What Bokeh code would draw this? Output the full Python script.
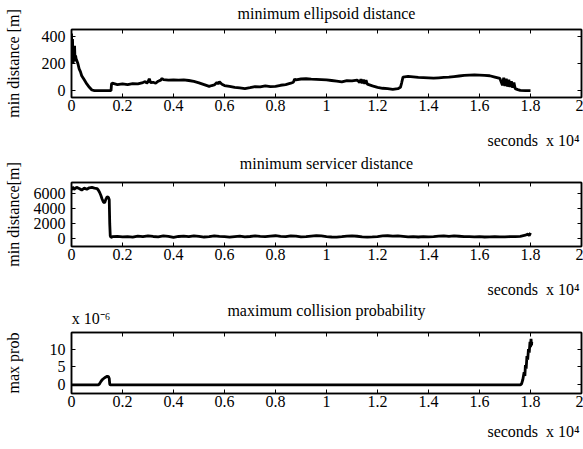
from bokeh.plotting import figure
from bokeh.models import Range1d, FixedTicker, LinearAxis
from bokeh.layouts import column
from bokeh.embed import file_html
from bokeh.resources import INLINE

FONT = "Liberation Serif"

# ---- data (time in units of 10^4 s) ----
x_ticks = [0, 0.2, 0.4, 0.6, 0.8, 1.0, 1.2, 1.4, 1.6, 1.8, 2.0]
x_tick_labels = ["0", "0.2", "0.4", "0.6", "0.8", "1", "1.2", "1.4", "1.6", "1.8", "2"]
x_unit_text = "seconds\u00a0\u00a0x 10\u2074"
prob_unit_text = "x 10\u207b\u2076"

ell_t = [
    0.000, 0.002, 0.004, 0.006, 0.008, 0.010, 0.012, 0.014, 0.016, 0.018,
    0.020, 0.025, 0.030, 0.035, 0.040, 0.050, 0.060, 0.070, 0.080, 0.090,
    0.100, 0.120, 0.140, 0.155, 0.157, 0.160, 0.180, 0.200, 0.220, 0.240,
    0.260, 0.280, 0.290, 0.295, 0.300, 0.305, 0.310, 0.320, 0.330, 0.340,
    0.350, 0.355, 0.360, 0.380, 0.400, 0.420, 0.440, 0.460, 0.480, 0.500,
    0.520, 0.540, 0.550, 0.560, 0.570, 0.575, 0.580, 0.590, 0.600, 0.620,
    0.640, 0.660, 0.680, 0.700, 0.720, 0.740, 0.760, 0.780, 0.800, 0.820,
    0.840, 0.860, 0.870, 0.875, 0.880, 0.900, 0.920, 0.940, 0.960, 0.980,
    1.000, 1.020, 1.040, 1.060, 1.080, 1.100, 1.120, 1.130, 1.135, 1.140,
    1.145, 1.150, 1.155, 1.160, 1.180, 1.200, 1.220, 1.240, 1.260, 1.280,
    1.290, 1.295, 1.300, 1.320, 1.340, 1.360, 1.380, 1.400, 1.420, 1.440,
    1.460, 1.480, 1.500, 1.520, 1.540, 1.560, 1.580, 1.600, 1.620, 1.640,
    1.660, 1.680, 1.690, 1.695, 1.700, 1.705, 1.710, 1.715, 1.720, 1.725,
    1.730, 1.735, 1.740, 1.750, 1.760, 1.780, 1.800]
ell_d = [
    420, 250, 380, 200, 300, 230, 330, 215, 260, 235,
    225, 200, 160, 140, 110, 80, 50, 25, 5, 0,
    0, 0, 0, 0, 50, 55, 45, 50, 45, 52,
    50, 60, 68, 55, 65, 88, 60, 62, 55, 70,
    78, 90, 82, 78, 80, 78, 80, 75, 68, 58,
    45, 32, 38, 42, 60, 50, 65, 48, 38, 32,
    25, 20, 15, 22, 30, 28, 35, 30, 32, 40,
    45, 55, 62, 85, 80, 86, 88, 85, 84, 82,
    80, 75, 70, 65, 74, 72, 78, 60, 85, 55,
    82, 50, 78, 48, 35, 25, 18, 15, 10, 15,
    25, 60, 100, 105, 102, 98, 96, 94, 92, 95,
    98, 100, 104, 108, 112, 115, 116, 114, 112, 110,
    100, 90, 40, 95, 35, 88, 30, 80, 28, 70,
    22, 60, 15, 8, 2, 0, 0]

serv_t = [
    0.000, 0.005, 0.010, 0.020, 0.030, 0.040, 0.050, 0.060, 0.070, 0.080,
    0.090, 0.100, 0.105, 0.110, 0.115, 0.120, 0.125, 0.130, 0.135, 0.140,
    0.145, 0.148, 0.150, 0.152, 0.155, 0.160, 0.180, 0.200, 0.220, 0.240,
    0.260, 0.280, 0.300, 0.320, 0.340, 0.360, 0.380, 0.400, 0.420, 0.440,
    0.460, 0.480, 0.500, 0.520, 0.540, 0.560, 0.580, 0.600, 0.620, 0.640,
    0.660, 0.680, 0.700, 0.720, 0.740, 0.760, 0.780, 0.800, 0.820, 0.840,
    0.860, 0.880, 0.900, 0.920, 0.940, 0.960, 0.980, 1.000, 1.020, 1.040,
    1.060, 1.080, 1.100, 1.120, 1.140, 1.160, 1.180, 1.200, 1.220, 1.240,
    1.260, 1.280, 1.300, 1.320, 1.340, 1.360, 1.380, 1.400, 1.420, 1.440,
    1.460, 1.480, 1.500, 1.520, 1.540, 1.560, 1.580, 1.600, 1.620, 1.640,
    1.660, 1.680, 1.700, 1.720, 1.740, 1.760, 1.780, 1.790, 1.795, 1.800]
serv_d = [
    6500, 6900, 6600, 6850, 6700, 6500, 6750, 6600, 6800, 6850,
    6750, 6700, 6500, 6200, 5800, 5300, 4900, 4800, 5300, 5600,
    5500, 5200, 2000, 400, 200, 300, 350, 280, 320, 250,
    380, 300, 420, 330, 280, 400, 350, 200, 330, 380,
    300, 420, 350, 260, 300, 420, 350, 300, 250, 320,
    380, 290, 330, 400, 340, 300, 380, 430, 350, 300,
    420, 380, 280, 300, 380, 450, 400, 320, 260, 250,
    300, 380, 420, 360, 280, 250, 280, 320, 400, 430,
    380, 420, 350, 280, 320, 260, 300, 280, 320, 380,
    420, 350, 400, 360, 320, 300, 280, 300, 260, 280,
    300, 280, 290, 300, 320, 350, 500, 650, 450, 800]

prob_t = [
    0.000, 0.105, 0.110, 0.115, 0.120, 0.125, 0.130, 0.135, 0.140, 0.145,
    0.148, 0.150, 0.152, 1.760, 1.765, 1.770, 1.775, 1.778, 1.780, 1.783,
    1.786, 1.789, 1.792, 1.795, 1.798, 1.800, 1.802, 1.804, 1.805]
prob_e6 = [
    0, 0, 0.3, 0.9, 1.4, 1.7, 2.0, 2.2, 2.4, 2.3,
    1.8, 0.2, 0, 0, 0.3, 1.5, 3.5, 2.5, 5.5, 4.5,
    8.0, 7.0, 10.0, 9.0, 12.0, 10.5, 12.8, 11.0, 12.0]

X_LO, X_HI = 0, 2
# where the centred unit texts sit along the time axis
X_UNIT_POS = 1.812
PROB_UNIT_POS = 0.077

W = 583
BORDER_L, BORDER_R = 71, 2


def style_axis(ax, ticks, labels=False, overrides=None, standoff=5):
    ax.ticker = FixedTicker(ticks=ticks, minor_ticks=[])
    ax.major_tick_in = 4
    ax.major_tick_out = 0
    ax.minor_tick_in = 0
    ax.minor_tick_out = 0
    ax.axis_line_color = "black"
    ax.axis_line_width = 1.5
    ax.major_tick_line_color = "black"
    ax.major_tick_line_width = 1
    ax.major_label_text_font = FONT
    ax.major_label_text_color = "black"
    if labels:
        ax.major_label_text_font_size = "16px"
        ax.major_label_standoff = standoff
        if overrides:
            ax.major_label_overrides = overrides
    else:
        ax.major_label_text_font_size = "0px"
        ax.major_label_standoff = 0


def text_axis(pos, text, standoff):
    ax = LinearAxis(ticker=FixedTicker(ticks=[pos], minor_ticks=[]))
    ax.major_tick_in = 0
    ax.major_tick_out = 0
    ax.minor_tick_in = 0
    ax.minor_tick_out = 0
    ax.axis_line_color = None
    ax.major_tick_line_color = None
    ax.minor_tick_line_color = None
    ax.major_label_text_font = FONT
    ax.major_label_text_font_size = "16px"
    ax.major_label_text_color = "black"
    ax.major_label_standoff = standoff
    ax.major_label_overrides = {pos: text}
    return ax


def set_axis_label(ax, text, standoff):
    ax.axis_label = text
    ax.axis_label_text_font = FONT
    ax.axis_label_text_font_size = "16px"
    ax.axis_label_text_font_style = "normal"
    ax.axis_label_text_color = "black"
    ax.axis_label_standoff = standoff


def panel(title, ylabel, xs, ys, y_lo, y_hi, yticks, height, top, frame_h,
          ylab_standoff, title_gap):
    p = figure(width=W, height=height, x_range=Range1d(X_LO, X_HI),
               y_range=Range1d(y_lo, y_hi), output_backend="svg",
               toolbar_location=None, min_border_left=BORDER_L,
               min_border_right=BORDER_R, min_border_top=top,
               min_border_bottom=height - top - frame_h)
    p.line(xs, ys, line_color="black", line_width=2.8)
    p.grid.visible = False
    p.outline_line_color = "black"
    p.outline_line_width = 1.5
    p.background_fill_color = "white"
    p.border_fill_color = "white"

    style_axis(p.xaxis[0], x_ticks, True, dict(zip(x_ticks, x_tick_labels)), 2)
    style_axis(p.yaxis[0], yticks, True, None, 6)
    set_axis_label(p.yaxis[0], ylabel, ylab_standoff)

    top_ax = LinearAxis()
    style_axis(top_ax, x_ticks)
    if title is not None:
        set_axis_label(top_ax, title, title_gap)
    p.add_layout(top_ax, "above")
    right_ax = LinearAxis()
    style_axis(right_ax, yticks)
    p.add_layout(right_ax, "right")
    return p


# page rows: fig1 0-128, fig2 128-277, fig3 277-449
p1 = panel("minimum ellipsoid distance", "min distance [m]", ell_t, ell_d,
           -50, 450, [0, 200, 400], 128, 29, 68, 17, 8)
p2 = panel("minimum servicer distance", "min distance[m]", serv_t, serv_d,
           -1000, 7500, [0, 2000, 4000, 6000], 149, 52, 66, 9, 11)
p3 = panel(None, "max prob", prob_t, prob_e6,
           -2.4, 14.6, [0, 5, 10], 172, 51, 65, 25, 0)

# unit text of the top panel's time axis, shown just above the second panel
p2.add_layout(text_axis(X_UNIT_POS, x_unit_text, 3), "above")

# exponent label and title of the bottom panel
exp_ax = text_axis(PROB_UNIT_POS, prob_unit_text, 6)
set_axis_label(exp_ax, "maximum collision probability", -12)
p3.add_layout(exp_ax, "above")
# unit text of the middle panel's time axis
p3.add_layout(text_axis(X_UNIT_POS, x_unit_text, 1), "above")
# unit text of the bottom panel's time axis
p3.add_layout(text_axis(X_UNIT_POS, x_unit_text, 13), "below")

layout = column(p1, p2, p3, spacing=0)
open("out.html", "w").write(file_html(layout, INLINE))
